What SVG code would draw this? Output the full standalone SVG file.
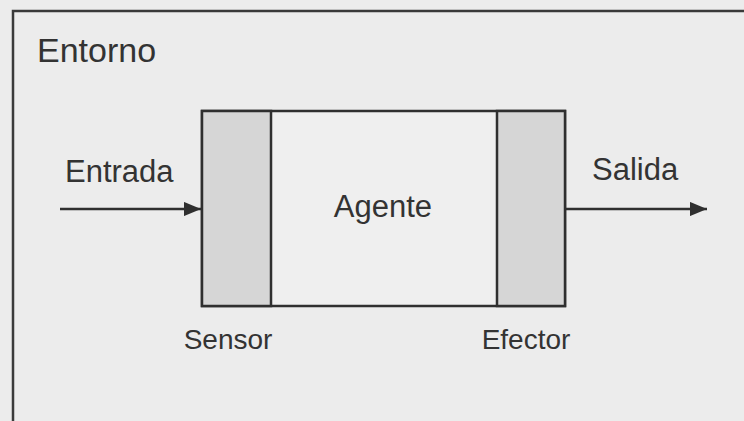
<svg xmlns="http://www.w3.org/2000/svg" width="744" height="421" viewBox="0 0 744 421">
  <style>
    .bg { fill: #ececec; }
    .frame { fill: none; stroke: #3a3a3a; stroke-width: 2.5; }
    .box { fill: #efefef; stroke: #2f2f2f; stroke-width: 2.5; }
    .side { fill: #d6d6d6; stroke: #2f2f2f; stroke-width: 2.5; }
    .conn { fill: none; stroke: #2f2f2f; stroke-width: 2.5; }
    text { font-family: "Liberation Sans", Arial, sans-serif; fill: #333333; }
    .lbl { font-size: 31px; }
    .big { font-size: 34px; }
    .small { font-size: 28px; }
  </style>
  <defs>
    <marker id="arrow" viewBox="0 0 12 10" refX="12" refY="5" markerWidth="7" markerHeight="5.8" markerUnits="strokeWidth" orient="auto">
      <path d="M0,0 L12,5 L0,10 Z" fill="#2f2f2f"/>
    </marker>
  </defs>
  <rect class="bg" x="0" y="0" width="744" height="421"/>
  <g id="entorno">
    <path class="frame" d="M13,421 L13,11 L744,11"/>
    <text class="big" x="37" y="62">Entorno</text>
  </g>
  <g id="agente">
    <rect class="box" x="202" y="111" width="363" height="195"/>
    <text class="lbl" x="383" y="217" text-anchor="middle">Agente</text>
  </g>
  <g id="sensor">
    <rect class="side" x="202" y="111" width="69" height="195"/>
    <text class="small" x="228" y="349" text-anchor="middle">Sensor</text>
  </g>
  <g id="efector">
    <rect class="side" x="497" y="111" width="68" height="195"/>
    <text class="small" x="526" y="349" text-anchor="middle">Efector</text>
  </g>
  <g id="entrada">
    <text class="lbl" x="65" y="182">Entrada</text>
  </g>
  <g id="salida">
    <text class="lbl" x="592" y="180">Salida</text>
  </g>
  <g id="connectors">
    <line class="conn" x1="60" y1="209" x2="201" y2="209" marker-end="url(#arrow)"/>
    <line class="conn" x1="565" y1="209" x2="707" y2="209" marker-end="url(#arrow)"/>
  </g>
</svg>
